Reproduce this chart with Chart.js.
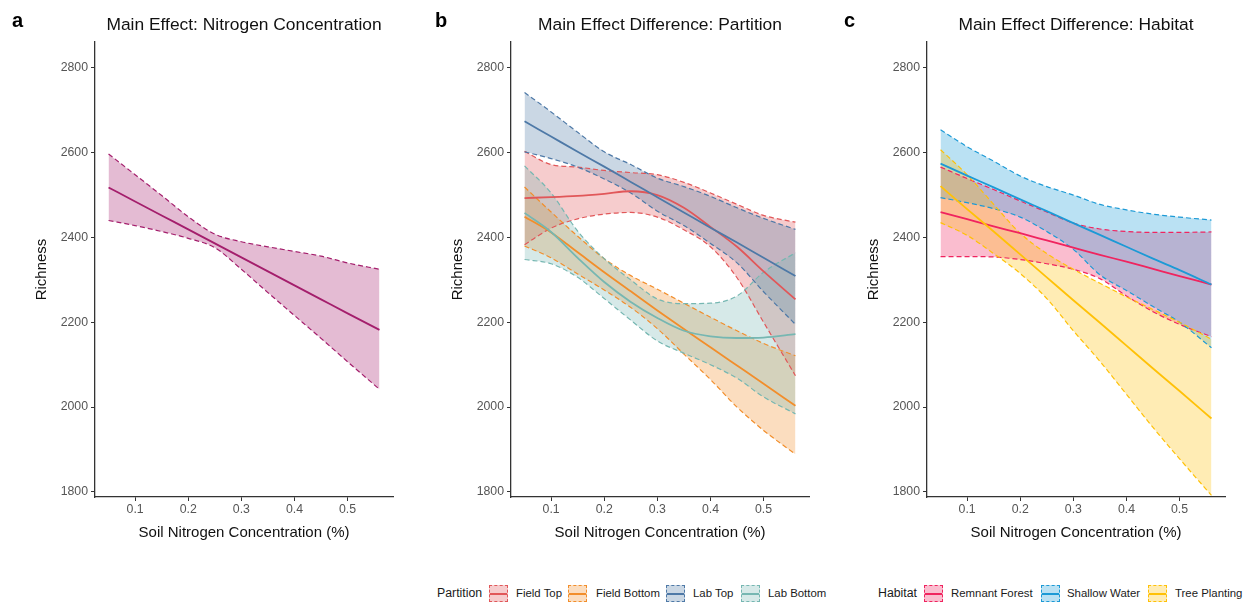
<!DOCTYPE html>
<html><head><meta charset="utf-8">
<script src="https://cdn.jsdelivr.net/npm/chart.js@4.4.1/dist/chart.umd.min.js"></script>
<style>
html,body{margin:0;padding:0;background:#fff;}
body{width:1246px;height:603px;position:relative;overflow:hidden;font-family:"Liberation Sans",Arial,sans-serif;}
canvas{position:absolute;top:0;}
.legend{position:absolute;left:0;top:585px;width:1246px;height:17px;color:#1a1a1a;white-space:nowrap;}
.legend span{position:absolute;top:0;height:17px;line-height:17px;}
.legend .lt{font-size:12.3px;}
.legend .lab{font-size:11.4px;}
.legend .key{width:19px;box-sizing:border-box;border:1px dashed;}
.legend .key i{position:absolute;left:0;right:0;top:7px;height:1.6px;}
</style></head><body>
<canvas id="ca" width="410" height="560" style="left:0"></canvas>
<canvas id="cb" width="410" height="560" style="left:416px"></canvas>
<canvas id="cc" width="410" height="560" style="left:832px"></canvas>
<div class="legend" id="legB"></div>
<div class="legend" id="legC"></div>
<script>
// ---- data ----
const X_VALUES = [0.05,0.1,0.15,0.2,0.25,0.3,0.35,0.4,0.45,0.5,0.56];
const X_TICKS = [0.1,0.2,0.3,0.4,0.5];
const X_TICK_LABELS = ['0.1','0.2','0.3','0.4','0.5'];
const Y_TICKS = [1800,2000,2200,2400,2600,2800];
const Y_TICK_LABELS = ['1800','2000','2200','2400','2600','2800'];

// panel a
const nitroFit   = [2518,2485,2452,2419,2386,2353,2320,2287,2254,2221,2182];
const nitroUpper = [2597,2548,2499,2449,2408,2390,2378,2367,2356,2340,2325];
const nitroLower = [2440,2428,2414,2398,2376,2325,2270,2216,2162,2107,2042];

// panel b
const fieldTopFit     = [2493,2495,2498,2503,2509,2500,2470,2425,2378,2320,2254];
const fieldTopUpper   = [2603,2572,2566,2558,2553,2548,2530,2505,2478,2452,2436];
const fieldTopLower   = [2383,2422,2444,2455,2459,2448,2418,2378,2305,2200,2074];
const fieldBottomFit  = [2449,2412,2365,2318,2273,2228,2184,2141,2098,2055,2003];
const fieldBottomUpper= [2519,2460,2403,2350,2310,2278,2245,2212,2180,2150,2121];
const fieldBottomLower= [2380,2352,2314,2276,2235,2185,2125,2065,2000,1945,1889];
const labTopFit       = [2674,2638,2602,2567,2531,2495,2459,2423,2388,2352,2309];
const labTopUpper     = [2742,2696,2648,2602,2572,2540,2520,2497,2470,2445,2419];
const labTopLower     = [2602,2586,2566,2538,2505,2462,2428,2386,2340,2272,2195];
const labBottomFit    = [2458,2413,2352,2295,2248,2210,2180,2167,2163,2164,2172];
const labBottomUpper  = [2569,2505,2415,2350,2300,2255,2244,2245,2262,2318,2364];
const labBottomLower  = [2348,2338,2306,2256,2205,2156,2127,2100,2068,2024,1984];

// panel c
const remnantFit   = [2460,2443,2426,2410,2393,2376,2359,2343,2326,2309,2289];
const remnantUpper = [2566,2539,2513,2486,2460,2434,2420,2414,2412,2412,2413];
const remnantLower = [2355,2355,2354,2348,2338,2325,2303,2262,2225,2195,2166];
const shallowFit   = [2574,2546,2518,2490,2462,2434,2406,2378,2350,2323,2289];
const shallowUpper = [2654,2614,2580,2545,2520,2500,2478,2465,2455,2448,2441];
const shallowLower = [2494,2482,2468,2448,2414,2372,2312,2275,2237,2200,2140];
const treeFit      = [2521,2467,2414,2360,2306,2252,2199,2145,2091,2038,1973];
const treeUpper    = [2607,2548,2478,2410,2362,2325,2292,2260,2230,2200,2160];
const treeLower    = [2435,2405,2362,2315,2256,2180,2108,2030,1952,1878,1792];

const PARTITION_NAMES = ['Field Top','Field Bottom','Lab Top','Lab Bottom'];
const HABITAT_NAMES = ['Remnant Forest','Shallow Water','Tree Planting'];

// ---- styling ----
const FONT = '"Liberation Sans", Arial, sans-serif';
Chart.defaults.font.family = FONT;
function rgba(hex,a){const n=parseInt(hex.slice(1),16);return `rgba(${n>>16},${(n>>8)&255},${n&255},${a})`;}
function pts(arr){return arr.map((y,i)=>({x:X_VALUES[i],y}));}

function makeChart(id, letter, letterX, title, groups){
  const datasets=[];
  groups.forEach((g,k)=>{
    const common={borderColor:g.color,borderDash:[5,3],borderWidth:1.2,pointRadius:0,pointHoverRadius:0,cubicInterpolationMode:'monotone',order:100-k};
    datasets.push(Object.assign({label:g.name+' lower',data:pts(g.lower),fill:false},common));
    datasets.push(Object.assign({label:g.name+' upper',data:pts(g.upper),fill:'-1',backgroundColor:rgba(g.color,0.3)},common));
  });
  groups.forEach((g,k)=>{
    datasets.push({label:g.name,data:pts(g.fit),borderColor:g.color,borderWidth:1.8,pointRadius:0,pointHoverRadius:0,fill:false,cubicInterpolationMode:'monotone',order:50-k});
  });
  const axisCommon={
    grid:{drawOnChartArea:false,drawTicks:true,tickLength:4,color:'#333',lineWidth:1},
    border:{display:true,color:'#333',width:1.3}
  };
  return new Chart(document.getElementById(id),{
    type:'line',
    data:{datasets},
    options:{
      responsive:false,animation:false,devicePixelRatio:1,
      layout:{padding:{left:0,right:17,top:0,bottom:0},autoPadding:false},
      plugins:{
        legend:{display:false},tooltip:{enabled:false},
        filler:{drawTime:'beforeDatasetsDraw'},
        title:{display:true,text:title,fullSize:false,color:'#111',font:{size:17.4,weight:'normal'},padding:{top:14.6,bottom:6.5}}
      },
      scales:{
        x:Object.assign({type:'linear',min:0.0245,max:0.5855,
          afterBuildTicks:s=>{s.ticks=X_TICKS.map(v=>({value:v}));},
          afterFit:s=>{s.height=63;},
          ticks:{color:'#555',font:{size:12.3},padding:1,callback:(v,i)=>X_TICK_LABELS[i]},
          title:{display:true,text:'Soil Nitrogen Concentration (%)',color:'#111',font:{size:15},padding:{top:0,bottom:18}}
        },axisCommon),
        y:Object.assign({type:'linear',min:1788,max:2861,
          afterBuildTicks:s=>{s.ticks=Y_TICKS.map(v=>({value:v}));},
          afterFit:s=>{s.width=95;},
          ticks:{color:'#555',font:{size:12.3},padding:3,callback:(v,i)=>Y_TICK_LABELS[i]},
          title:{display:true,text:'Richness',color:'#111',font:{size:15},padding:{top:33,bottom:0}}
        },axisCommon)
      }
    },
    plugins:[{id:'letter',afterDraw(chart){const c=chart.ctx;c.save();c.font='bold 20px '+FONT;c.fillStyle='#000';c.textBaseline='alphabetic';c.textAlign='left';c.fillText(letter,letterX,26.5);c.restore();}}]
  });
}

const colA='#A41E6C';
makeChart('ca','a',12,'Main Effect: Nitrogen Concentration',[
  {name:'Nitrogen',color:colA,fit:nitroFit,upper:nitroUpper,lower:nitroLower}
]);
const partColors=['#E15759','#F28E2B','#4E79A7','#76B7B2'];
const partGroups=[
  {fit:fieldTopFit,upper:fieldTopUpper,lower:fieldTopLower},
  {fit:fieldBottomFit,upper:fieldBottomUpper,lower:fieldBottomLower},
  {fit:labTopFit,upper:labTopUpper,lower:labTopLower},
  {fit:labBottomFit,upper:labBottomUpper,lower:labBottomLower}
].map((g,i)=>Object.assign(g,{name:PARTITION_NAMES[i],color:partColors[i]}));
makeChart('cb','b',19,'Main Effect Difference: Partition',partGroups);
const habColors=['#F0245F','#1C9AD6','#FFC107'];
const habGroups=[
  {fit:remnantFit,upper:remnantUpper,lower:remnantLower},
  {fit:shallowFit,upper:shallowUpper,lower:shallowLower},
  {fit:treeFit,upper:treeUpper,lower:treeLower}
].map((g,i)=>Object.assign(g,{name:HABITAT_NAMES[i],color:habColors[i]}));
makeChart('cc','c',12,'Main Effect Difference: Habitat',habGroups);

// legend layout (pixel positions of title, keys and labels)
function buildLegend(id,title,names,colors,titleX,keyXs,labelXs){
  const el=document.getElementById(id);
  let h=`<span class="lt" style="left:${titleX}px">${title}</span>`;
  names.forEach((n,i)=>{
    h+=`<span class="key" style="left:${keyXs[i]}px;border-color:${colors[i]};background:${rgba(colors[i],0.3)}"><i style="background:${colors[i]}"></i></span><span class="lab" style="left:${labelXs[i]}px">${n}</span>`;
  });
  el.innerHTML=h;
}
buildLegend('legB','Partition',PARTITION_NAMES,partColors,437,[489,568,666,741],[516,596,693,768]);
buildLegend('legC','Habitat',HABITAT_NAMES,habColors,878,[924,1041,1148],[951,1067,1175]);
</script>
</body></html>
